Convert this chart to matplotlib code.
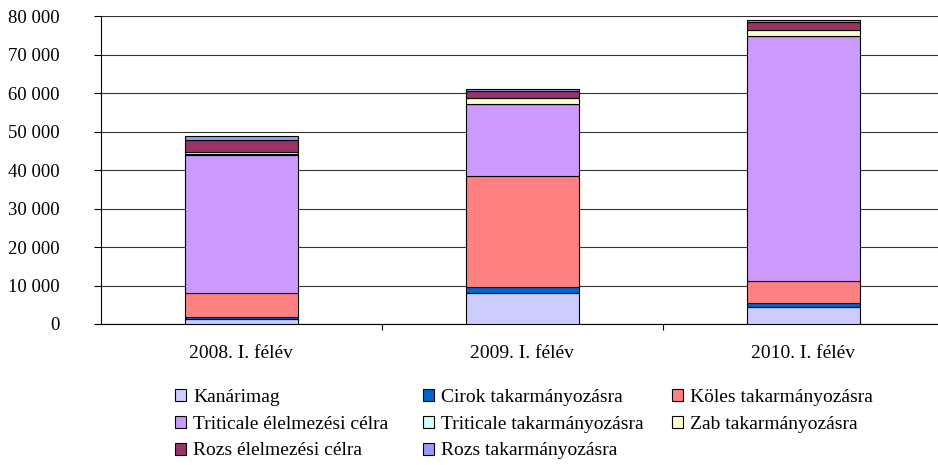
import matplotlib
matplotlib.use("Agg")
import matplotlib.pyplot as plt
from matplotlib.patches import Patch
import numpy as np

categories = ["2008. I. félév", "2009. I. félév", "2010. I. félév"]
series_names = ["Kanárimag", "Cirok takarmányozásra", "Köles takarmányozásra",
                "Triticale élelmezési célra", "Triticale takarmányozásra",
                "Zab takarmányozásra", "Rozs élelmezési célra", "Rozs takarmányozásra"]
kanarimag = [1200, 8000, 4300]
cirok = [700, 1700, 1050]
koles = [6100, 28800, 5900]
triticale_elelm = [35900, 18600, 63550]
triticale_takarm = [200, 100, 100]
zab = [500, 1500, 1400]
rozs_elelm = [3300, 1900, 2060]
rozs_takarm = [850, 500, 500]
yticks = [0, 10000, 20000, 30000, 40000, 50000, 60000, 70000, 80000]
ytick_labels = ["0", "10 000", "20 000", "30 000", "40 000", "50 000", "60 000", "70 000", "80 000"]

series = [kanarimag, cirok, koles, triticale_elelm, triticale_takarm, zab, rozs_elelm, rozs_takarm]
colors = ["#CCCCFF", "#0066CC", "#FF8080", "#CC99FF", "#CCFFFF", "#FFFFCC", "#993366", "#9999FF"]

plt.rcParams['font.family'] = ['Liberation Serif', 'DejaVu Serif']

fig = plt.figure(figsize=(9.38, 4.65), dpi=100)
ax = fig.add_axes([101/938, 1 - 324/465, 837/938, (324 - 16)/465])

x = np.arange(len(categories))
bottom = np.zeros(len(categories))
for vals, col, name in zip(series, colors, series_names):
    ax.bar(x, vals, 0.402, bottom=bottom, color=col, edgecolor="black", linewidth=0.8, label=name, zorder=3)
    bottom += np.array(vals)

ax.set_xlim(-0.5, 2.48)
ax.set_ylim(0, 80000)
ax.set_yticks(yticks)
ax.set_yticklabels(ytick_labels, fontsize=13.5)
ax.yaxis.grid(True, color="#333333", linewidth=0.8, zorder=0)
ax.set_xticks(x)
ax.set_xticklabels(categories, fontsize=14)
ax.tick_params(axis="x", length=0, pad=15)
ax.set_xticks([0.5, 1.5], minor=True)
ax.tick_params(axis="x", which="minor", length=4, width=0.8, direction="out")
ax.tick_params(axis="y", length=5, width=0.8, direction="out", pad=25)
for lbl in ax.get_yticklabels():
    lbl.set_horizontalalignment("right")
for s in ["top", "right"]:
    ax.spines[s].set_visible(False)
ax.spines["left"].set_linewidth(0.8)
ax.spines["bottom"].set_linewidth(0.8)
ax.set_axisbelow(True)

# legend: three columns filled row-wise, as in the reference
col_x = [175, 423, 672]
for c in range(3):
    idx = [i for i in range(len(series_names)) if i % 3 == c]
    handles = [Patch(facecolor=colors[i], edgecolor="black", linewidth=0.8) for i in idx]
    labels = [series_names[i] for i in idx]
    fig.legend(handles, labels, ncol=1, loc="upper left", bbox_to_anchor=(col_x[c]/938, 1 - 389/465),
               frameon=False, fontsize=14, handlelength=0.58, handleheight=0.58, handletextpad=0.36,
               labelspacing=0.5, borderpad=0, borderaxespad=0)

fig.savefig("out.png", dpi=100)
